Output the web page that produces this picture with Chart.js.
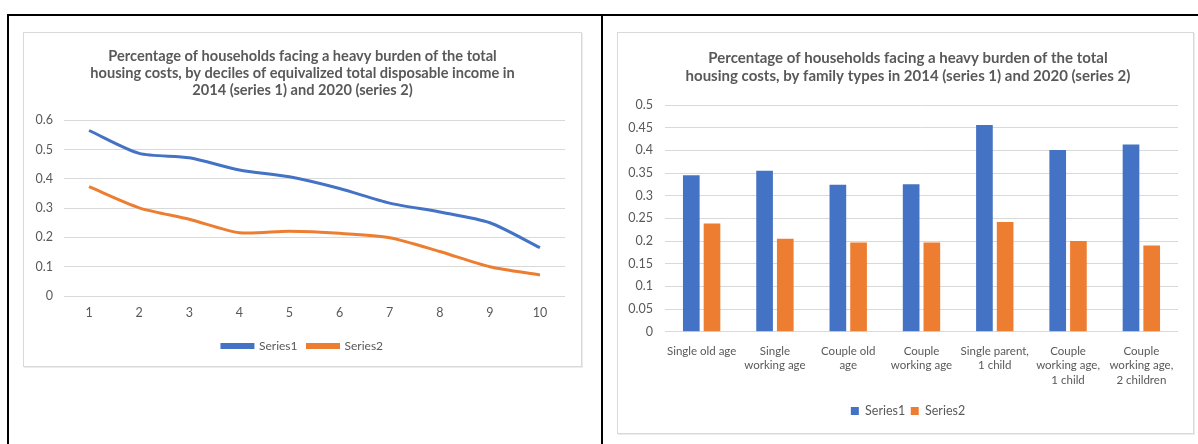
<!DOCTYPE html>
<html><head><meta charset="utf-8">
<script src="https://cdn.jsdelivr.net/npm/chart.js@4.4.1/dist/chart.umd.min.js"></script>
<style>
html,body{margin:0;padding:0;background:#fff;width:1198px;height:444px;overflow:hidden;position:relative;}
.blk{position:absolute;background:#000;}
.box{position:absolute;border:1px solid #d9d9d9;box-shadow:1px 1px 0 #ececec;background:#fff;}
canvas{position:absolute;}
</style></head>
<body>
<div class="blk" style="left:7px;top:14px;width:1191px;height:2px;"></div>
<div class="blk" style="left:7px;top:14px;width:2px;height:430px;"></div>
<div class="blk" style="left:601px;top:14px;width:2px;height:430px;"></div>
<div class="box" style="left:23px;top:32px;width:557px;height:333px;"><canvas id="c1" width="557" height="333"></canvas></div>
<div class="box" style="left:617px;top:32px;width:575px;height:400px;"><canvas id="c2" width="575" height="400"></canvas></div>
<script>
// ---- data ----
const deciles = ['1','2','3','4','5','6','7','8','9','10'];
const decileSeries1 = [0.565, 0.487, 0.472, 0.430, 0.407, 0.367, 0.317, 0.287, 0.250, 0.165];
const decileSeries2 = [0.373, 0.301, 0.262, 0.216, 0.221, 0.214, 0.199, 0.152, 0.100, 0.072];
const leftYTickLabels = ['0','0.1','0.2','0.3','0.4','0.5','0.6'];

const familyTypes = [
  'Single old age',
  ['Single', 'working age'],
  ['Couple old', 'age'],
  ['Couple', 'working age'],
  ['Single parent,', '1 child'],
  ['Couple', 'working age,', '1 child'],
  ['Couple', 'working age,', '2 children']
];
const familySeries1 = [0.345, 0.355, 0.324, 0.325, 0.456, 0.401, 0.413];
const familySeries2 = [0.239, 0.205, 0.197, 0.197, 0.242, 0.200, 0.190];
const rightYTickLabels = ['0','0.05','0.1','0.15','0.2','0.25','0.3','0.35','0.4','0.45','0.5'];

const seriesNames = ['Series1', 'Series2'];
const titleLeft = ['Percentage of households facing a heavy burden of the total',
  'housing costs, by deciles of equivalized total disposable income in',
  '2014 (series 1) and 2020 (series 2)'];
const titleRight = ['Percentage of households facing a heavy burden of the total',
  'housing costs, by family types in 2014 (series 1) and 2020 (series 2)'];

// ---- style ----
const BLUE = '#4472C4', ORANGE = '#ED7D31', TXT = '#595959', GRID = '#d9d9d9';
const FONT = 'Lato, "Open Sans", sans-serif';
Chart.defaults.font.family = FONT;
Chart.defaults.color = TXT;

// empty right-side spacer axis (keeps title/legend centred on the full box)
const spacerAxis = w => ({position: 'right', display: true, grid: {display: false, drawTicks: false},
  ticks: {display: false}, border: {display: false}, afterFit: s => { s.width = w; }});

new Chart(document.getElementById('c1'), {
  type: 'line',
  data: {
    labels: deciles,
    datasets: [
      {label: seriesNames[0], data: decileSeries1, borderColor: BLUE, backgroundColor: BLUE, borderWidth: 3, pointRadius: 0, tension: 0.25},
      {label: seriesNames[1], data: decileSeries2, borderColor: ORANGE, backgroundColor: ORANGE, borderWidth: 3, pointRadius: 0, tension: 0.25}
    ]
  },
  options: {
    responsive: false, animation: false,
    layout: {padding: {left: 0, right: 0, top: 14.5, bottom: 4}},
    plugins: {
      title: {display: true, text: titleLeft, color: TXT, font: {size: 14.6, weight: 'bold', lineHeight: 1.17}, padding: {top: 0, bottom: 21.5}},
      legend: {position: 'bottom', labels: {boxWidth: 31, boxHeight: 3, font: {size: 12}, color: TXT, padding: 10}},
      tooltip: {enabled: false}
    },
    scales: {
      x: {offset: true, grid: {display: false, drawTicks: false}, border: {display: false},
          ticks: {font: {size: 12.5}, color: TXT, padding: 9.5}},
      y: {min: 0, max: 0.6, afterFit: s => { s.width = 40; },
          ticks: {stepSize: 0.1, font: {size: 12.5}, color: TXT, padding: 11,
                  callback: (v, i) => leftYTickLabels[i]},
          grid: {color: GRID, drawTicks: false, lineWidth: 1}, border: {display: false}},
      pad: spacerAxis(16)
    }
  }
});

new Chart(document.getElementById('c2'), {
  type: 'bar',
  data: {
    labels: familyTypes,
    datasets: [
      {label: seriesNames[0], data: familySeries1, backgroundColor: BLUE},
      {label: seriesNames[1], data: familySeries2, backgroundColor: ORANGE}
    ]
  },
  options: {
    responsive: false, animation: false,
    categoryPercentage: 0.565, barPercentage: 0.805,
    layout: {padding: {left: 5, right: 0, top: 16, bottom: 5.75}},
    plugins: {
      title: {display: true, text: titleRight, color: TXT, font: {size: 15, weight: 'bold', lineHeight: 1.2}, padding: {top: 0, bottom: 20}},
      legend: {position: 'bottom', labels: {boxWidth: 8, boxHeight: 8, font: {size: 12.5}, color: TXT, padding: 5.5}},
      tooltip: {enabled: false}
    },
    scales: {
      x: {grid: {display: false, drawTicks: false}, border: {display: false},
          ticks: {font: {size: 11.5, lineHeight: 1.26}, color: TXT, padding: 12, maxRotation: 0, autoSkip: false}},
      y: {min: 0, max: 0.5, afterFit: s => { s.width = 42; },
          ticks: {stepSize: 0.05, font: {size: 12.5}, color: TXT, padding: 12,
                  callback: (v, i) => rightYTickLabels[i]},
          grid: {color: GRID, drawTicks: false, lineWidth: 1}, border: {display: false}},
      pad: spacerAxis(15)
    }
  }
});
</script>
</body></html>
